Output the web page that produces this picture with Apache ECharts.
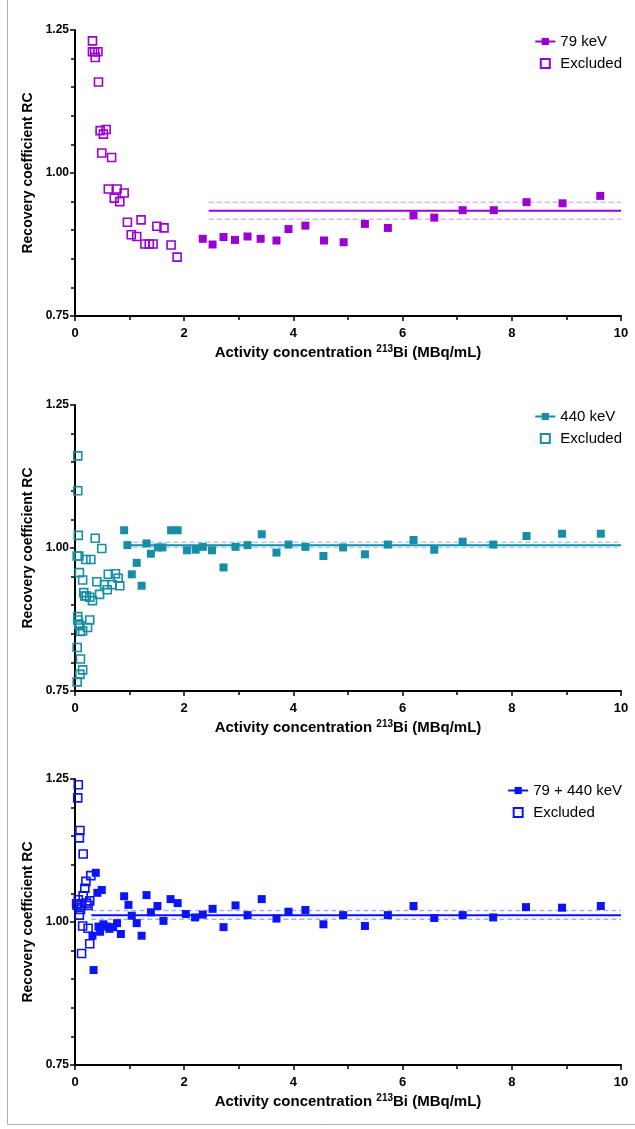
<!DOCTYPE html>
<html>
<head>
<meta charset="utf-8">
<script src="https://cdn.jsdelivr.net/npm/echarts@6/dist/echarts.min.js"></script>
<style>
  html, body { margin: 0; padding: 0; background: #fff; }
  #chart { width: 635px; height: 1129px; }
</style>
</head>
<body>
<div id="chart"></div>
<script>
// 79 keV window
const excluded79 = [
  [0.32, 1.231], [0.32, 1.212], [0.36, 1.212], [0.42, 1.212], [0.37, 1.202], [0.43, 1.159],
  [0.46, 1.074], [0.57, 1.076], [0.52, 1.068], [0.49, 1.035], [0.67, 1.027],
  [0.61, 0.972], [0.77, 0.972], [0.72, 0.956], [0.82, 0.950], [0.90, 0.965],
  [0.96, 0.914], [1.21, 0.918], [1.03, 0.892], [1.13, 0.889],
  [1.28, 0.876], [1.36, 0.876], [1.43, 0.876], [1.50, 0.907], [1.63, 0.904],
  [1.76, 0.874], [1.87, 0.853]
]
const included79 = [
  [2.34, 0.885], [2.52, 0.875], [2.72, 0.888], [2.93, 0.883], [3.16, 0.889], [3.40, 0.885],
  [3.69, 0.882], [3.91, 0.902], [4.22, 0.908], [4.56, 0.882], [4.92, 0.879], [5.31, 0.911],
  [5.73, 0.904], [6.20, 0.926], [6.58, 0.922], [7.10, 0.935], [7.67, 0.935], [8.27, 0.949],
  [8.93, 0.947], [9.62, 0.960]
]
// start x, mean, lower, upper
const mean79 = [2.45, 0.934, 0.919, 0.949]

// 440 keV window
const excluded440 = [
  [0.05, 1.161], [0.05, 1.100], [0.06, 1.022], [0.04, 0.986], [0.07, 0.986],
  [0.20, 0.980], [0.29, 0.980], [0.37, 1.017], [0.49, 0.999], [0.08, 0.957], [0.14, 0.944],
  [0.16, 0.922], [0.18, 0.916], [0.21, 0.916], [0.32, 0.908], [0.27, 0.914], [0.45, 0.919],
  [0.40, 0.941], [0.54, 0.936], [0.59, 0.927], [0.61, 0.954], [0.68, 0.936], [0.74, 0.955],
  [0.79, 0.947], [0.82, 0.934],
  [0.05, 0.880], [0.05, 0.874], [0.07, 0.867], [0.09, 0.864], [0.14, 0.855], [0.10, 0.854],
  [0.23, 0.861], [0.27, 0.874], [0.04, 0.826], [0.10, 0.806], [0.14, 0.787], [0.09, 0.779],
  [0.04, 0.766]
]
const included440 = [
  [0.90, 1.031], [0.96, 1.005], [1.13, 0.974], [1.04, 0.954], [1.22, 0.934], [1.31, 1.008],
  [1.39, 0.990], [1.52, 1.001], [1.60, 1.001], [1.76, 1.031], [1.88, 1.031], [2.05, 0.996],
  [2.21, 0.997], [2.34, 1.002], [2.51, 0.996], [2.72, 0.966], [2.94, 1.002], [3.16, 1.005],
  [3.42, 1.024], [3.69, 0.992], [3.91, 1.006], [4.22, 1.002], [4.55, 0.986], [4.91, 1.001],
  [5.31, 0.989], [5.73, 1.006], [6.20, 1.014], [6.58, 0.997], [7.10, 1.011], [7.66, 1.006],
  [8.27, 1.021], [8.92, 1.025], [9.63, 1.025]
]
const mean440 = [0.92, 1.005, 1.001, 1.010]

// 79 + 440 keV window
const excludedSum = [
  [0.06, 1.240], [0.05, 1.217], [0.09, 1.160], [0.08, 1.147], [0.15, 1.119], [0.29, 1.081],
  [0.20, 1.071], [0.18, 1.059], [0.15, 1.046], [0.06, 1.039], [0.03, 1.032], [0.04, 1.029],
  [0.12, 1.029], [0.21, 1.033], [0.27, 1.037], [0.24, 1.029], [0.10, 1.022], [0.08, 1.012],
  [0.14, 0.993], [0.24, 0.989], [0.27, 0.962], [0.12, 0.945]
]
const includedSum = [
  [0.38, 1.086], [0.49, 1.056], [0.41, 1.051], [0.34, 0.916], [0.32, 0.976], [0.43, 0.992],
  [0.46, 0.983], [0.52, 0.996], [0.58, 0.992], [0.63, 0.988], [0.70, 0.991], [0.77, 0.998],
  [0.84, 0.979], [0.90, 1.045], [0.98, 1.030], [1.04, 1.011], [1.13, 0.998], [1.22, 0.976],
  [1.31, 1.047], [1.39, 1.017], [1.51, 1.028], [1.62, 1.002], [1.75, 1.040], [1.88, 1.033],
  [2.03, 1.014], [2.20, 1.008], [2.34, 1.013], [2.52, 1.023], [2.72, 0.991], [2.94, 1.029],
  [3.16, 1.012], [3.42, 1.040], [3.69, 1.006], [3.91, 1.018], [4.22, 1.021], [4.55, 0.996],
  [4.91, 1.012], [5.31, 0.993], [5.73, 1.012], [6.20, 1.028], [6.58, 1.007], [7.10, 1.012],
  [7.66, 1.008], [8.26, 1.026], [8.92, 1.025], [9.63, 1.028]
]
const meanSum = [0.30, 1.012, 1.005, 1.020]

const yTicks = [0.75, 1.00, 1.25]
const xTicks = [0, 2, 4, 6, 8, 10]

const panels = [
  { name: '79 keV', excl: 'Excluded79', color: '#9a00d4', light: '#e6b3f2', excluded: excluded79, included: included79, mean: mean79, top: 30 },
  { name: '440 keV', excl: 'Excluded440', color: '#168fa6', light: '#a9cff2', excluded: excluded440, included: included440, mean: mean440, top: 405 },
  { name: '79 + 440 keV', excl: 'ExcludedSum', color: '#0a14f5', light: '#aab0f2', excluded: excludedSum, included: includedSum, mean: meanSum, top: 779 }
]

const font = 'Liberation Sans, Arial, sans-serif'
const grids = []
const xAxes = []
const yAxes = []
const legends = []
const series = []

panels.forEach(function (p, i) {
  grids.push({ left: 75, right: 14, top: p.top, height: 286 })
  xAxes.push({
    type: 'value', gridIndex: i, min: 0, max: 10, interval: 2,
    name: 'Activity concentration {sup|213}Bi (MBq/mL)',
    nameLocation: 'middle', nameGap: 28,
    nameTextStyle: {
      fontFamily: font, fontWeight: 'bold', fontSize: 15, color: '#000',
      rich: { sup: { fontFamily: font, fontWeight: 'bold', fontSize: 10, color: '#000', verticalAlign: 'top', padding: [0, 0, 8, 0] } }
    },
    axisLine: { show: true, onZero: false, lineStyle: { color: '#000', width: 2 } },
    axisTick: { show: true, length: 5, lineStyle: { color: '#000', width: 1.5 } },
    minorTick: { show: true, splitNumber: 2, length: 4, lineStyle: { color: '#000', width: 1.5 } },
    axisLabel: {
      margin: 11, fontFamily: font, fontWeight: 'bold', fontSize: 13, color: '#000',
      formatter: function (v) { return xTicks.indexOf(v) >= 0 ? String(v) : '' }
    },
    splitLine: { show: false }
  })
  yAxes.push({
    type: 'value', gridIndex: i, min: 0.75, max: 1.25, interval: 0.25,
    name: 'Recovery coefficient RC',
    nameLocation: 'middle', nameGap: 37,
    nameTextStyle: { fontFamily: font, fontWeight: 'bold', fontSize: 14, color: '#000' },
    axisLine: { show: true, onZero: false, lineStyle: { color: '#000', width: 2 } },
    axisTick: { show: true, length: 5, lineStyle: { color: '#000', width: 1.5 } },
    minorTick: { show: true, splitNumber: 5, length: 4, lineStyle: { color: '#000', width: 1.5 } },
    axisLabel: {
      margin: 6, fontFamily: font, fontWeight: 'bold', fontSize: 12, color: '#000',
      formatter: function (v) { return yTicks.indexOf(v) >= 0 ? v.toFixed(2) : '' }
    },
    splitLine: { show: false }
  })
  legends.push({
    top: p.top + 4, right: 13, padding: 0, orient: 'vertical', itemGap: 7,
    itemWidth: 20, itemHeight: 9, symbolKeepAspect: true,
    data: [
      { name: p.name },
      { name: p.excl, icon: 'path://M0,0H10V10H0Z' }
    ],
    formatter: function (n) { return n.indexOf('Excluded') === 0 ? 'Excluded' : n },
    textStyle: { fontFamily: font, fontSize: 15, color: '#000' },
    selectedMode: false
  })
  const m = p.mean
  series.push({
    name: p.name, type: 'line', xAxisIndex: i, yAxisIndex: i,
    data: [[m[0], m[1]], [10, m[1]]],
    symbol: 'rect', symbolSize: 8, showSymbol: false,
    itemStyle: { color: p.color },
    lineStyle: { color: p.color, width: 2 }, silent: true, z: 1
  })
  series.push({
    name: p.name + ' lower', type: 'line', xAxisIndex: i, yAxisIndex: i,
    data: [[m[0], m[2]], [10, m[2]]], showSymbol: false,
    lineStyle: { color: p.light, width: 1.5, type: [5, 3] }, silent: true, z: 1
  })
  series.push({
    name: p.name + ' upper', type: 'line', xAxisIndex: i, yAxisIndex: i,
    data: [[m[0], m[3]], [10, m[3]]], showSymbol: false,
    lineStyle: { color: p.light, width: 1.5, type: [5, 3] }, silent: true, z: 1
  })
  series.push({
    name: p.name + ' points', type: 'scatter', xAxisIndex: i, yAxisIndex: i,
    data: p.included, symbol: 'rect', symbolSize: 8,
    itemStyle: { color: p.color, opacity: 1 }, z: 3
  })
  series.push({
    name: p.excl, type: 'scatter', xAxisIndex: i, yAxisIndex: i,
    data: p.excluded, symbol: 'rect', symbolSize: 8, symbolKeepAspect: true,
    itemStyle: { color: 'rgba(255,255,255,0)', borderColor: p.color, borderWidth: 1.6, opacity: 1 }, z: 3
  })
})

const chart = echarts.init(document.getElementById('chart'), null, { renderer: 'canvas' })
chart.setOption({
  animation: false,
  backgroundColor: '#fff',
  grid: grids,
  xAxis: xAxes,
  yAxis: yAxes,
  legend: legends,
  series: series,
  graphic: [{
    type: 'rect', silent: true, z: -1,
    shape: { x: 7.5, y: -2, width: 640, height: 1126.5 },
    style: { fill: 'none', stroke: '#b0b0b0', lineWidth: 1 }
  }]
})
</script>
</body>
</html>
